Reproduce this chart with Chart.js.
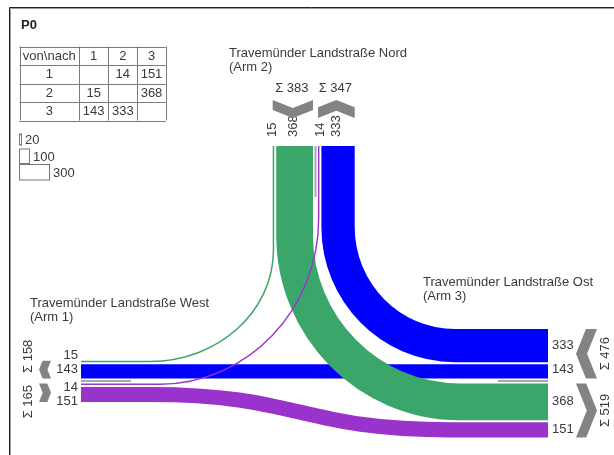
<!DOCTYPE html>
<html>
<head>
<meta charset="utf-8">
<script src="https://cdn.jsdelivr.net/npm/chart.js@4/dist/chart.umd.min.js"></script>
<style>
  html, body { margin: 0; padding: 0; background: #fff; }
  #wrap { width: 614px; height: 455px; position: relative; }
</style>
</head>
<body>
<div id="wrap"><canvas id="myChart"></canvas></div>
<script>
// Knotenstrom P0: von Arm (Zeile) nach Arm (Spalte)
const title = "P0";
const arms = ["1", "2", "3"];
const armNames = ["Travemünder Landstraße West", "Travemünder Landstraße Nord", "Travemünder Landstraße Ost"];
const fromArm1 = [null, 14, 151];
const fromArm2 = [15, null, 368];
const fromArm3 = [143, 333, null];
const legendValues = [20, 100, 300];
const originColors = ["#9933cc", "#3aa66a", "#0000ff"];

const matrix = [fromArm1, fromArm2, fromArm3];

const FONT = '"Liberation Sans", Arial, sans-serif';
const UNIT = 0.1; // band width per vehicle
const GAP = 2;
const MEDIAN_OFF = 2.5;
const KAPPA = 0.5523;

// where each arm sits on the sheet
const armLayout = {
  1: { axis: "h", end: 81, median: 381, inward: 1, outSide: 1, outOrder: [2, 3], inOrder: [3, 2],
       medianTo: 131, labelAt: 78, chevron: [39, 51], sumAt: 28, name: [30, 307] },
  2: { axis: "v", end: 146, median: 315.5, inward: 1, outSide: -1, outOrder: [3, 1], inOrder: [1, 3],
       medianTo: 197, labelAt: 137, chevron: [100, 118], sumAt: 88, name: [229, 57] },
  3: { axis: "h", end: 548, median: 381, inward: -1, outSide: -1, outOrder: [1, 2], inOrder: [2, 1],
       medianTo: 498, labelAt: 552, chevron: [576, 597], sumAt: 605, name: [423, 286] },
};
const turns = {
  "2-1": { y0: 250, x: 150 },
  "1-2": { y0: 218, x: 160 },
  "2-3": { y0: 235, x: 460 },
  "3-2": { y0: 227, x: 455 },
  "1-3": { x0: 150, x1: 450 },
  "3-1": { x0: 150, x1: 450 },
};

function buildLanes() {
  const bands = {};
  const lanes = {};
  for (const a of [1, 2, 3]) {
    const L = armLayout[a];
    for (const kind of ["out", "in"]) {
      const s = kind === "out" ? L.outSide : -L.outSide;
      const order = kind === "out" ? L.outOrder : L.inOrder;
      let p = L.median + s * MEDIAN_OFF;
      const start = p;
      const list = [];
      let total = 0;
      for (const other of order) {
        const v = kind === "out" ? matrix[a - 1][other - 1] : matrix[other - 1][a - 1];
        if (v == null) continue;
        const w = v * UNIT;
        const c = p + s * w / 2;
        const key = kind === "out" ? a + "-" + other : other + "-" + a;
        bands[key] = bands[key] || { value: v };
        bands[key][a] = c;
        list.push({ v, c, w });
        total += v;
        p += s * (w + GAP);
      }
      const end = p - s * GAP;
      lanes[a + kind] = { lo: Math.min(start, end), hi: Math.max(start, end), s, list, total };
    }
  }
  return { bands, lanes };
}

const flowPlugin = {
  id: "flows",
  afterDraw(chart) {
    const ctx = chart.ctx;
    const sx = chart.scales.x, sy = chart.scales.y;
    const X = (v) => sx.getPixelForValue(v);
    const Y = (v) => sy.getPixelForValue(v);
    const W = (v) => Math.abs(Y(v) - Y(0));
    const { bands, lanes } = buildLanes();
    const A = armLayout;

    ctx.save();
    ctx.fillStyle = "#fff";
    ctx.fillRect(0, 0, chart.width, chart.height);

    // frame
    ctx.strokeStyle = "#222";
    ctx.lineWidth = 1;
    ctx.beginPath();
    ctx.moveTo(X(9.5), Y(455)); ctx.lineTo(X(9.5), Y(7.5)); ctx.lineTo(X(614), Y(7.5));
    ctx.stroke();
    ctx.strokeStyle = "#9a9a9a";
    ctx.beginPath();
    ctx.moveTo(X(10.5), Y(455)); ctx.lineTo(X(10.5), Y(8.5)); ctx.lineTo(X(614), Y(8.5));
    ctx.stroke();

    // title
    ctx.fillStyle = "#222";
    ctx.font = "bold 13px " + FONT;
    ctx.textAlign = "left";
    ctx.textBaseline = "alphabetic";
    ctx.fillText(title, X(21), Y(28.5));

    // matrix table
    const colX = [19.5, 79, 108.3, 137.3, 165.7];
    const rowY = [46.5, 65, 83.5, 102, 120.5];
    ctx.strokeStyle = "#7a7a7a";
    ctx.lineWidth = 1;
    ctx.beginPath();
    colX.forEach((x) => { ctx.moveTo(X(Math.round(x) + 0.5), Y(rowY[0])); ctx.lineTo(X(Math.round(x) + 0.5), Y(rowY[4])); });
    rowY.forEach((y) => { ctx.moveTo(X(colX[0]), Y(Math.round(y) + 0.5)); ctx.lineTo(X(colX[4]), Y(Math.round(y) + 0.5)); });
    ctx.stroke();
    ctx.fillStyle = "#3a3a3a";
    ctx.font = "13px " + FONT;
    ctx.textAlign = "center";
    ctx.textBaseline = "middle";
    const cell = (txt, c, r) => ctx.fillText(txt, X((colX[c] + colX[c + 1]) / 2), Y((rowY[r] + rowY[r + 1]) / 2 + 0.5));
    cell("von\\nach", 0, 0);
    arms.forEach((a, i) => { cell(a, i + 1, 0); cell(a, 0, i + 1); });
    matrix.forEach((row, i) => row.forEach((v, j) => { if (v != null) cell(String(v), j + 1, i + 1); }));

    // scale legend
    const legTop = [134, 149, 164.5];
    const legH = [11, 14.5, 15.5];
    ctx.textAlign = "left";
    legendValues.forEach((v, i) => {
      const w = v * UNIT;
      ctx.strokeStyle = "#777";
      ctx.fillStyle = "#fff";
      ctx.lineWidth = 1;
      ctx.fillRect(X(19.5), Y(legTop[i]), W(w), W(legH[i]));
      ctx.strokeRect(X(19.5), Y(legTop[i]), W(w), W(legH[i]));
      ctx.fillStyle = "#3a3a3a";
      ctx.fillText(String(v), X(19.5 + w + 3.5), Y(legTop[i] + legH[i] / 2 + 1));
    });

    // median lines
    ctx.strokeStyle = "#a8a8a8";
    ctx.lineWidth = 2;
    ctx.beginPath();
    for (const a of [1, 2, 3]) {
      const L = A[a];
      if (L.axis === "h") { ctx.moveTo(X(L.end), Y(L.median)); ctx.lineTo(X(L.medianTo), Y(L.median)); }
      else { ctx.moveTo(X(L.median), Y(L.end)); ctx.lineTo(X(L.median), Y(L.medianTo)); }
    }
    ctx.stroke();

    // flow bands, drawn by origin 3, 2, 1
    ctx.lineCap = "butt";
    ctx.lineJoin = "round";
    for (const o of [3, 2, 1]) {
      for (const d of [1, 2, 3]) {
        const key = o + "-" + d;
        const band = bands[key];
        if (!band) continue;
        ctx.strokeStyle = originColors[o - 1];
        ctx.lineWidth = W(band.value * UNIT);
        ctx.beginPath();
        if (o !== 2 && d !== 2) {
          const y1 = band[1], y3 = band[3];
          ctx.moveTo(X(A[1].end), Y(y1));
          if (Math.abs(y1 - y3) > 0.5) {
            const t = turns[key];
            const mid = (t.x0 + t.x1) / 2;
            ctx.lineTo(X(t.x0), Y(y1));
            ctx.bezierCurveTo(X(mid), Y(y1), X(mid), Y(y3), X(t.x1), Y(y3));
          }
          ctx.lineTo(X(A[3].end), Y(y3));
        } else {
          const h = o === 2 ? d : o;
          const t = turns[key];
          const xa = band[2], yb = band[h];
          ctx.moveTo(X(xa), Y(A[2].end));
          ctx.lineTo(X(xa), Y(t.y0));
          ctx.bezierCurveTo(X(xa), Y(t.y0 + KAPPA * (yb - t.y0)),
                            X(t.x + KAPPA * (xa - t.x)), Y(yb), X(t.x), Y(yb));
          ctx.lineTo(X(A[h].end), Y(yb));
        }
        ctx.stroke();
      }
    }

    // value labels, chevrons and sums per arm
    ctx.font = "13px " + FONT;
    for (const a of [1, 2, 3]) {
      const L = A[a];
      for (const kind of ["out", "in"]) {
        const lane = lanes[a + kind];
        const s = lane.s;
        // value labels pushed apart
        let prev = null;
        ctx.fillStyle = "#3a3a3a";
        ctx.textBaseline = "middle";
        lane.list.forEach((b) => {
          let p = b.c;
          if (prev === null) p = s > 0 ? Math.max(p, L.median + 6) : Math.min(p, L.median - 12);
          else p = s > 0 ? Math.max(p, prev + 14) : Math.min(p, prev - 14);
          prev = p;
          if (L.axis === "h") {
            ctx.textAlign = a === 1 ? "right" : "left";
            ctx.fillText(String(b.v), X(L.labelAt), Y(p));
          } else {
            ctx.save();
            ctx.translate(X(p - 1.5), Y(L.labelAt));
            ctx.rotate(-Math.PI / 2);
            ctx.textAlign = "left";
            ctx.fillText(String(b.v), 0, 0);
            ctx.restore();
          }
        });

        // chevron
        const dir = kind === "out" ? L.inward : -L.inward;
        const lo = lane.lo, hi = lane.hi, mid = (lo + hi) / 2;
        const p0 = L.chevron[0], p1 = L.chevron[1];
        const dd = 0.2 * (hi - lo);
        let pts;
        if (dir > 0) pts = [[p1 - dd, lo], [p1, mid], [p1 - dd, hi], [p0, hi], [p0 + dd, mid], [p0, lo]];
        else pts = [[p0 + dd, lo], [p0, mid], [p0 + dd, hi], [p1, hi], [p1 - dd, mid], [p1, lo]];
        ctx.fillStyle = "#838383";
        ctx.beginPath();
        pts.forEach(([al, ac], i) => {
          const px = L.axis === "h" ? X(al) : X(ac);
          const py = L.axis === "h" ? Y(ac) : Y(al);
          if (i === 0) ctx.moveTo(px, py); else ctx.lineTo(px, py);
        });
        ctx.closePath();
        ctx.fill();

        // sum
        const txt = "\u03a3 " + lane.total;
        ctx.fillStyle = "#3a3a3a";
        ctx.textAlign = "center";
        if (L.axis === "v") {
          ctx.fillText(txt, X(mid - 1), Y(L.sumAt));
        } else {
          const half = ctx.measureText(txt).width / 2;
          let c = mid;
          if (s < 0) c = Math.min(c, L.median - 8 - half);
          else c = Math.max(c, L.median + 4 + half);
          ctx.save();
          ctx.translate(X(L.sumAt), Y(c));
          ctx.rotate(-Math.PI / 2);
          ctx.fillText(txt, 0, 0);
          ctx.restore();
        }
      }

      // arm name
      ctx.fillStyle = "#3a3a3a";
      ctx.textAlign = "left";
      ctx.textBaseline = "alphabetic";
      ctx.fillText(armNames[a - 1], X(L.name[0]), Y(L.name[1]));
      ctx.fillText("(Arm " + arms[a - 1] + ")", X(L.name[0]), Y(L.name[1] + 13.5));
    }
    ctx.restore();
  },
};

const config = {
  type: "scatter",
  data: { datasets: [{ data: [], pointRadius: 0 }] },
  options: {
    responsive: true,
    maintainAspectRatio: false,
    animation: false,
    events: [],
    layout: { padding: 0 },
    plugins: { legend: { display: false }, tooltip: { enabled: false } },
    scales: {
      x: { type: "linear", min: 0, max: 614, display: false },
      y: { type: "linear", min: 0, max: 455, reverse: true, display: false },
    },
  },
  plugins: [flowPlugin],
};

new Chart(document.getElementById("myChart"), config);
</script>
</body>
</html>
